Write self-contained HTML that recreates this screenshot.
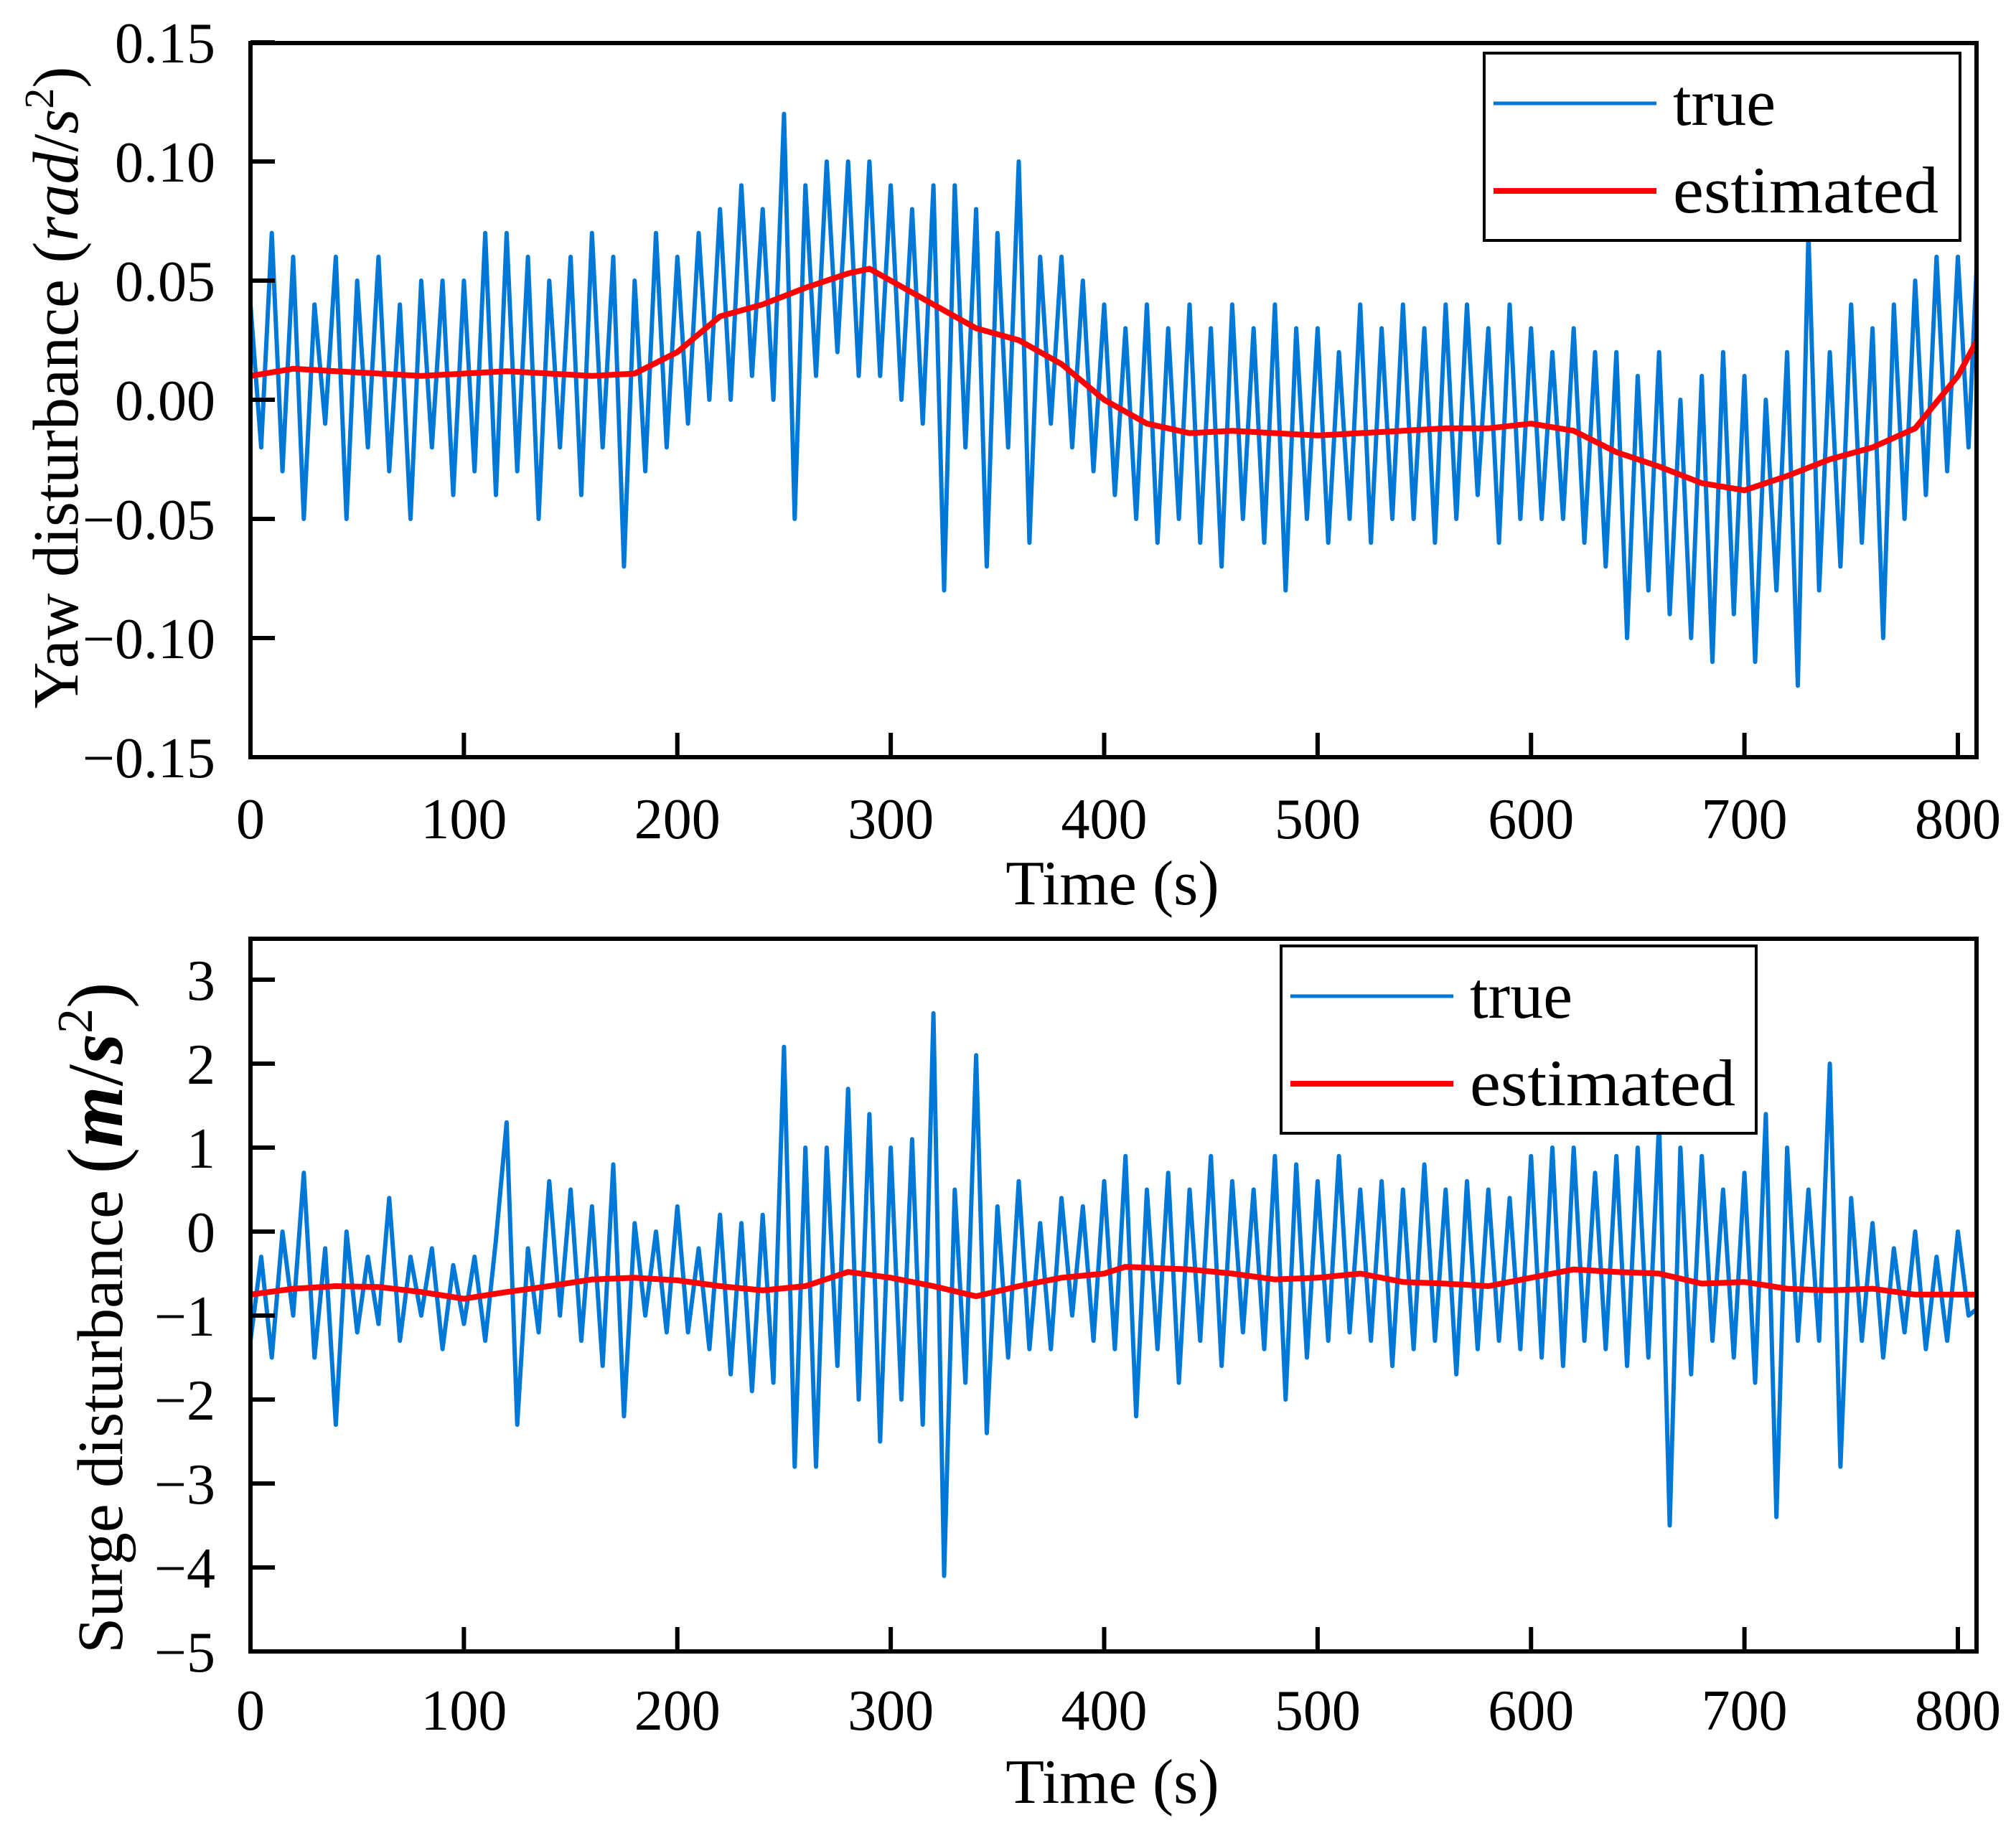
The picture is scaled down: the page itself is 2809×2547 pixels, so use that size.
<!DOCTYPE html>
<html><head><meta charset="utf-8"><style>
html,body{margin:0;padding:0;background:#fff}
svg{display:block;font-family:"Liberation Serif",serif}
</style></head><body>
<svg id="chart" width="2809" height="2547" viewBox="0 0 2809 2547" xmlns="http://www.w3.org/2000/svg">
<g id="top"></g>
<g id="bot"></g>
</svg>
<script>
const xTicks=[0,100,200,300,400,500,600,700,800];
const yawTicks=[0.15,0.10,0.05,0.00,-0.05,-0.10,-0.15];
const yawTickLabels=["0.15","0.10","0.05","0.00","\u22120.05","\u22120.10","\u22120.15"];
const surgeTicks=[3,2,1,0,-1,-2,-3,-4,-5];
const surgeTickLabels=["3","2","1","0","\u22121","\u22122","\u22123","\u22124","\u22125"];
const trueStep=5;
const yawTrue=[0.04,-0.02,0.07,-0.03,0.06,-0.05,0.04,-0.01,0.06,-0.05,0.05,-0.02,0.06,-0.03,0.04,-0.05,0.05,-0.02,0.05,-0.04,0.05,-0.03,0.07,-0.04,0.07,-0.03,0.06,-0.05,0.05,-0.02,0.06,-0.04,0.07,-0.02,0.06,-0.07,0.05,-0.03,0.07,-0.02,0.06,-0.01,0.07,0.00,0.08,0.00,0.09,0.01,0.08,0.00,0.12,-0.05,0.09,0.01,0.10,0.02,0.10,0.01,0.10,0.01,0.09,0.00,0.08,-0.01,0.09,-0.08,0.09,-0.02,0.08,-0.07,0.07,-0.02,0.10,-0.06,0.06,-0.01,0.06,-0.02,0.05,-0.03,0.04,-0.04,0.03,-0.05,0.04,-0.06,0.03,-0.05,0.04,-0.06,0.03,-0.07,0.04,-0.05,0.03,-0.06,0.04,-0.08,0.03,-0.05,0.03,-0.06,0.02,-0.05,0.04,-0.06,0.03,-0.05,0.04,-0.05,0.03,-0.06,0.04,-0.05,0.04,-0.04,0.03,-0.06,0.04,-0.05,0.03,-0.05,0.02,-0.05,0.03,-0.06,0.02,-0.07,0.02,-0.10,0.01,-0.08,0.02,-0.09,0.00,-0.10,0.01,-0.11,0.02,-0.09,0.01,-0.11,0.00,-0.08,0.02,-0.12,0.07,-0.08,0.02,-0.07,0.04,-0.06,0.03,-0.10,0.04,-0.05,0.05,-0.04,0.06,-0.03,0.06,-0.02,0.08];
const yawEstT=[0,20,40,60,80,100,120,140,160,180,200,220,240,260,280,290,300,320,340,360,380,400,420,440,460,480,500,520,540,560,580,600,620,640,660,680,700,720,740,760,780,800,809];
const yawEst=[0.010,0.013,0.012,0.011,0.010,0.011,0.012,0.011,0.010,0.011,0.020,0.035,0.040,0.047,0.053,0.055,0.050,0.040,0.030,0.025,0.015,0.000,-0.010,-0.014,-0.013,-0.014,-0.015,-0.014,-0.013,-0.012,-0.012,-0.010,-0.013,-0.022,-0.028,-0.035,-0.038,-0.032,-0.025,-0.020,-0.012,0.010,0.025];
const surgeTrue=[-1.3,-0.3,-1.5,0.0,-1.0,0.7,-1.5,-0.2,-2.3,0.0,-1.2,-0.3,-1.1,0.4,-1.3,-0.3,-1.0,-0.2,-1.4,-0.4,-1.1,-0.3,-1.3,-0.1,1.3,-2.3,-0.2,-1.2,0.6,-1.0,0.5,-1.3,0.3,-1.6,0.8,-2.2,0.1,-1.0,0.0,-1.2,0.3,-1.2,-0.2,-1.4,0.2,-1.7,0.1,-1.9,0.2,-1.8,2.2,-2.8,1.0,-2.8,1.0,-1.6,1.7,-2.0,1.4,-2.5,1.0,-2.0,1.1,-2.3,2.6,-4.1,0.5,-1.8,2.1,-2.4,0.3,-1.5,0.6,-1.4,0.1,-1.4,0.4,-1.0,0.3,-1.3,0.6,-1.4,0.9,-2.2,0.5,-1.4,0.7,-1.8,0.5,-1.3,0.9,-1.6,0.6,-1.2,0.5,-1.4,0.9,-2.0,0.8,-1.5,0.6,-1.3,0.9,-1.2,0.5,-1.3,0.6,-1.6,0.5,-1.4,0.8,-1.3,0.5,-1.7,0.6,-1.4,0.5,-1.3,0.4,-1.4,0.9,-1.5,1.0,-1.6,1.0,-1.3,0.7,-1.4,0.9,-1.6,1.0,-1.5,1.3,-3.5,1.0,-1.7,0.9,-1.3,0.5,-1.5,0.7,-1.8,1.4,-3.4,1.0,-1.3,0.5,-1.3,2.0,-2.8,0.4,-1.3,0.1,-1.5,-0.2,-1.2,0.0,-1.4,-0.3,-1.3,0.0,-1.0,-0.9];
const surgeEstT=[0,20,40,60,80,100,120,140,160,180,200,220,240,260,280,300,320,340,360,380,400,410,440,460,480,500,520,540,560,580,600,620,640,660,680,700,720,740,760,780,809];
const surgeEst=[-0.75,-0.68,-0.65,-0.66,-0.72,-0.80,-0.72,-0.65,-0.57,-0.55,-0.58,-0.65,-0.70,-0.65,-0.48,-0.55,-0.65,-0.77,-0.65,-0.55,-0.50,-0.42,-0.45,-0.50,-0.57,-0.55,-0.50,-0.60,-0.62,-0.65,-0.55,-0.45,-0.48,-0.50,-0.62,-0.60,-0.68,-0.70,-0.68,-0.75,-0.75];

const NS="http://www.w3.org/2000/svg";
function mk(parent,tag,attrs,text){const e=document.createElementNS(NS,tag);for(const k in attrs)e.setAttribute(k,attrs[k]);if(text!==undefined)e.textContent=text;parent.appendChild(e);return e;}

function drawPanel(g,cfg){
  const L=349,R=2754,T=cfg.top,B=cfg.bottom;
  const xs=t=>L+(t-0)*(2728-349)/800;
  const ys=v=>cfg.y0px+(cfg.y0-v)*cfg.pxPerUnit;
  const clip=mk(g,'clipPath',{id:cfg.id+'-clip'});
  mk(clip,'rect',{x:L,y:T,width:R-L,height:B-T});
  let d='';
  cfg.trueV.forEach((v,i)=>{d+=(i?'L':'M')+xs(i*trueStep).toFixed(1)+','+ys(v).toFixed(1);});
  const tp=mk(g,'path',{d:d,fill:'none',stroke:'#0078d7','stroke-width':6,'stroke-linejoin':'round','clip-path':'url(#'+cfg.id+'-clip)'});
  
  
  let d2='';
  cfg.estT.forEach((t,i)=>{d2+=(i?'L':'M')+xs(t).toFixed(1)+','+ys(cfg.estV[i]).toFixed(1);});
  const ep=mk(g,'path',{d:d2,fill:'none',stroke:'#ff0000','stroke-width':8,'stroke-linejoin':'round','clip-path':'url(#'+cfg.id+'-clip)'});
  
  
  const fr=mk(g,'rect',{x:L,y:T,width:R-L,height:B-T,fill:'none',stroke:'#000','stroke-width':6});
  
  
  xTicks.forEach(t=>{
    const x=xs(t);
    mk(g,'line',{x1:x,y1:B,x2:x,y2:B-34,stroke:'#000','stroke-width':6});
    const tx=mk(g,'text',{x:x,y:cfg.xLabelY,'font-size':80,'text-anchor':'middle'},String(t));
    
    
  });
  cfg.yT.forEach((v,i)=>{
    const y=ys(v);
    mk(g,'line',{x1:L,y1:y,x2:L+34,y2:y,stroke:'#000','stroke-width':6});
    const ty=mk(g,'text',{x:cfg.yLabelX,y:y+28,'font-size':80,'text-anchor':'end'},cfg.yL[i]);
    
    
  });
  const xt=mk(g,'text',{x:1550,y:cfg.xTitleY,'font-size':88,'text-anchor':'middle'},'Time (s)');
  
  
  const lg=mk(g,'g',{});
  
  
  const lb=cfg.leg;
  mk(lg,'rect',{x:lb.x,y:lb.y,width:lb.w,height:lb.h,fill:'#fff',stroke:'#000','stroke-width':4});
  const l1=mk(lg,'line',{x1:lb.x+13,y1:lb.y+70,x2:lb.x+240,y2:lb.y+70,stroke:'#0078d7','stroke-width':5});
  
  
  mk(lg,'text',{x:lb.x+263,y:lb.y+100,'font-size':92},'true');
  const l2=mk(lg,'line',{x1:lb.x+13,y1:lb.y+192,x2:lb.x+240,y2:lb.y+192,stroke:'#ff0000','stroke-width':8});
  
  
  mk(lg,'text',{x:lb.x+263,y:lb.y+222,'font-size':92,textLength:370,lengthAdjust:'spacingAndGlyphs'},'estimated');
}

drawPanel(document.getElementById('top'),{id:'top',top:60,bottom:1055,y0:0,y0px:557,pxPerUnit:166/0.05,
  trueV:yawTrue,estT:yawEstT,estV:yawEst,yT:yawTicks,yL:yawTickLabels,yLabelX:300,xLabelY:1168,xTitleY:1260,
  leg:{x:2068,y:74,w:663,h:261}});
drawPanel(document.getElementById('bot'),{id:'bot',top:1308,bottom:2301,y0:0,y0px:1716,pxPerUnit:117,
  trueV:surgeTrue,estT:surgeEstT,estV:surgeEst,yT:surgeTicks,yL:surgeTickLabels,yLabelX:300,xLabelY:2410,xTitleY:2512,
  leg:{x:1785,y:1318,w:662,h:261}});

const svg=document.getElementById('chart');
const yt1=mk(svg,'text',{transform:'translate(108,540) rotate(-90)','font-size':90,'text-anchor':'middle'});


yt1.innerHTML='Yaw disturbance   (<tspan font-style="italic">rad</tspan>/<tspan font-style="italic">s</tspan><tspan font-size="58" dy="-34">2</tspan><tspan dy="34">)</tspan>';
const yt2=mk(svg,'text',{transform:'translate(170,1836) rotate(-90)','font-size':90,'text-anchor':'middle'});


yt2.innerHTML='Surge disturbance   <tspan font-size="110">(</tspan><tspan font-size="110" font-style="italic" font-weight="bold">m</tspan><tspan font-size="110">/</tspan><tspan font-size="110" font-style="italic" font-weight="bold">s</tspan><tspan font-size="70" dy="-42">2</tspan><tspan font-size="110" dy="42">)</tspan>';
</script>
</body></html>
